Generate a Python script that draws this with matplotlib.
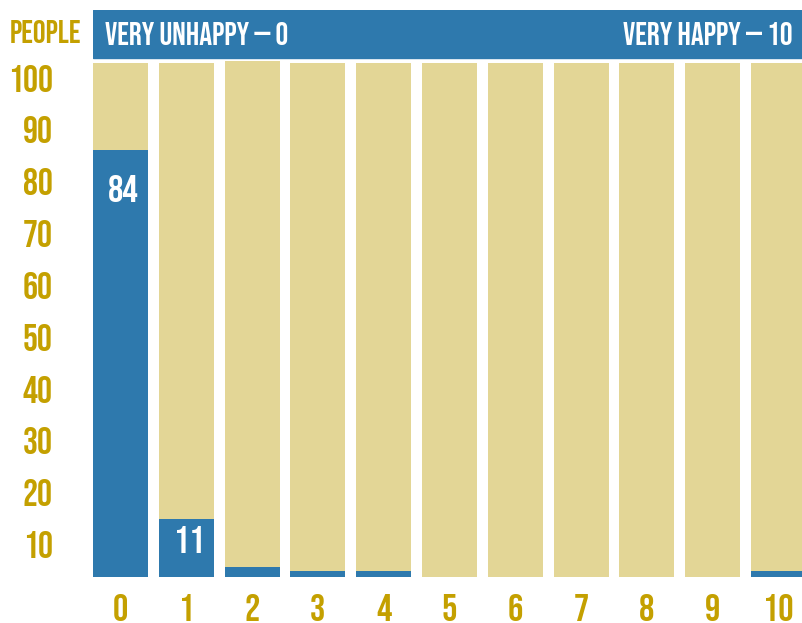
import matplotlib
matplotlib.use("Agg")
import matplotlib.pyplot as plt
from matplotlib import font_manager

# Happiness scores 0..10, people answering each, out of 100
scores = [0, 1, 2, 3, 4, 5, 6, 7, 8, 9, 10]
people = [83.1, 11.2, 2, 1.2, 1.2, 0, 0, 0, 0, 0, 1.2]
totals = [100, 100, 100.3, 100, 100, 100, 100, 100, 100, 100, 100]
value_labels = {0: "84", 1: "11"}
y_labels = [10, 20, 30, 40, 50, 60, 70, 80, 90, 100]

BLUE = "#2e79ad"
BEIGE = "#e3d696"
GOLD = "#c4a000"

# condensed display face, with fallbacks
names = {f.name for f in font_manager.fontManager.ttflist}
FONT = "DejaVu Sans"
for cand in ["Bebas Neue", "Oswald", "Roboto Condensed", "Liberation Sans Narrow"]:
    if cand in names:
        FONT = cand
        break
plt.rcParams["font.family"] = [FONT, "DejaVu Sans"]

fig = plt.figure(figsize=(8.03, 6.23), dpi=100)
# axes: x from 93px to 803px, y from 577px (0) up to 10px
W, H = 803, 623
ax = fig.add_axes([93 / W, (H - 577) / H, 710 / W, 567 / H])
ax.set_xlim(-0.418, 10.372)
ax.set_ylim(0, 110.3)

bw = 0.836
ax.bar(scores, totals, width=bw, color=BEIGE, zorder=1)
ax.bar(scores, people, width=bw, color=BLUE, zorder=2)

# header band
ax.axhspan(101.0, 110.3, color=BLUE, zorder=3)
ax.text(-0.236, 103.5, "VERY UNHAPPY — 0", color="white", fontsize=23,
        ha="left", va="baseline", zorder=4)
ax.text(10.22, 103.5, "VERY HAPPY — 10", color="white", fontsize=23,
        ha="right", va="baseline", zorder=4)

for i, lab in value_labels.items():
    ax.text(scores[i] + 0.04, people[i] * 0.95 - 5.9, lab, color="white",
            fontsize=27.5, ha="center", va="baseline", zorder=4)

for s in ax.spines.values():
    s.set_visible(False)
ax.set_xticks([])
ax.set_yticks([])

# tick labels placed beside the axes
for s in scores:
    ax.text(s, -8.6, str(s), color=GOLD, fontsize=27.5,
            ha="center", va="baseline", clip_on=False)
for v in y_labels:
    ax.text(-1.026, 3.7 + (v - 10) * 1.008, str(v), color=GOLD, fontsize=27,
            ha="right", va="baseline", clip_on=False)
fig.text(10 / W, 1 - 43 / H, "PEOPLE", color=GOLD, fontsize=23,
         ha="left", va="baseline")

fig.savefig("out.png", dpi=100)
